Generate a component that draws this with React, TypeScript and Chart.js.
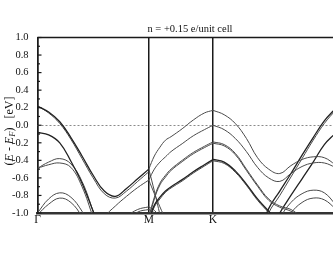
import React, { useEffect, useRef } from "react";
import { Chart, registerables } from "chart.js";

Chart.register(...registerables);

// ---------- data ----------
const TITLE = "n = +0.15 e/unit cell";
const kPointPos = [0, 1, 1.577];
const kPointLabels = ["Γ", "M", "K"];
const X_MAX = 2.655;

// k grids per path segment (Γ-M, M-K, K-Γ)
const kGM = [0, 0.1, 0.2, 0.3, 0.4, 0.5, 0.6, 0.7, 0.8, 0.9, 1.0];
const kMK = [1.0, 1.05, 1.1, 1.15, 1.2, 1.3, 1.4, 1.5, 1.577];
const kKG = [1.577, 1.677, 1.777, 1.877, 1.977, 2.077, 2.177, 2.277, 2.377, 2.477, 2.577, 2.677];

// Γ-M energies (eV)
const gm1a = [0.22, 0.15, 0.04, -0.14, -0.35, -0.57, -0.75, -0.81, -0.72, -0.61, -0.5];
const gm1b = [0.22, 0.14, 0.02, -0.16, -0.38, -0.6, -0.78, -0.83, -0.75, -0.64, -0.53];
const gm2 = [-0.08, -0.11, -0.2, -0.41, -0.66, -0.98, -1.3, null, null, null, null];
const gm3 = [-0.49, -0.42, -0.38, -0.44, -0.64, -0.98, -1.35, null, null, null, null];
const gm4 = [-0.49, -0.45, -0.43, -0.48, -0.7, -1.05, -1.4, null, null, null, null];
const gm5 = [-1.0, -0.84, -0.77, -0.82, -0.98, -1.2, null, null, null, null, null];
const gm6 = [-1.02, -0.9, -0.83, -0.88, -1.04, -1.25, null, null, null, null, null];
const gmE = [null, null, null, null, null, -1.3, -1.05, -0.92, -0.81, -0.71, -0.625];
const gmF = [null, null, null, null, null, null, null, -1.15, -1.04, -0.96, -0.93];
const gmG = [null, null, null, null, null, null, null, null, -1.1, -0.99, -0.96];

// M-K energies (eV)
const mkA = [-0.5, -0.35, -0.25, -0.17, -0.13, -0.04, 0.06, 0.14, 0.17];
const mkB = [-0.625, -0.5, -0.42, -0.36, -0.3, -0.21, -0.12, -0.05, 0.0];
const mkC1 = [-1.05, -0.82, -0.66, -0.57, -0.5, -0.4, -0.31, -0.24, -0.19];
const mkC2 = [-1.07, -0.84, -0.68, -0.59, -0.515, -0.415, -0.325, -0.255, -0.205];
const mkD1 = [-1.08, -0.91, -0.82, -0.75, -0.7, -0.62, -0.53, -0.45, -0.39];
const mkD2 = [-1.1, -0.93, -0.84, -0.765, -0.715, -0.635, -0.545, -0.465, -0.405];
const mkH1 = [-0.5, -0.75, -1.02, -1.3, null, null, null, null, null];
const mkH2 = [-0.625, -0.78, -0.93, -1.08, -1.3, null, null, null, null];
const mkF = [-0.93, -0.97, -1.05, null, null, null, null, null, null];
const mkG = [-0.96, -1.0, -1.1, null, null, null, null, null, null];

// K-Γ energies (eV)
const kgA = [0.17, 0.12, 0.02, -0.15, -0.37, -0.5, -0.55, -0.46, -0.39, -0.36, -0.37, -0.45];
const kgB = [0.0, -0.05, -0.15, -0.3, -0.48, -0.6, -0.64, -0.55, -0.47, -0.43, -0.43, -0.48];
const kgC1 = [-0.19, -0.22, -0.32, -0.5, -0.68, -0.84, -0.92, -0.96, -1.05, null, null, null];
const kgC2 = [-0.205, -0.235, -0.335, -0.515, -0.695, -0.855, -0.935, -0.98, -1.07, null, null, null];
const kgD1 = [-0.39, -0.42, -0.52, -0.67, -0.84, -0.98, -1.12, null, null, null, null, null];
const kgD2 = [-0.405, -0.435, -0.535, -0.685, -0.855, -0.995, -1.14, null, null, null, null, null];
const kg1a = [null, null, null, null, -1.3, -0.95, -0.75, -0.55, -0.34, -0.14, 0.05, 0.19];
const kg1b = [null, null, null, null, -1.35, -1.0, -0.8, -0.59, -0.38, -0.17, 0.02, 0.17];
const kg2 = [null, null, null, null, null, -1.25, -1.0, -0.8, -0.61, -0.42, -0.22, -0.09];
const kg5 = [null, null, null, null, null, null, -1.05, -0.88, -0.78, -0.74, -0.77, -0.9];
const kg6 = [null, null, null, null, null, null, -1.2, -1.0, -0.88, -0.83, -0.85, -0.95];

type Curve = { k: number[]; e: (number | null)[]; dark?: boolean };
const curves: Curve[] = [
  { k: kGM, e: gm1a, dark: true }, { k: kGM, e: gm1b }, { k: kGM, e: gm2, dark: true },
  { k: kGM, e: gm3 }, { k: kGM, e: gm4 }, { k: kGM, e: gm5 }, { k: kGM, e: gm6 },
  { k: kGM, e: gmE }, { k: kGM, e: gmF }, { k: kGM, e: gmG },
  { k: kMK, e: mkA }, { k: kMK, e: mkB }, { k: kMK, e: mkC1 }, { k: kMK, e: mkC2 },
  { k: kMK, e: mkD1, dark: true }, { k: kMK, e: mkD2 }, { k: kMK, e: mkH1 }, { k: kMK, e: mkH2 },
  { k: kMK, e: mkF }, { k: kMK, e: mkG },
  { k: kKG, e: kgA }, { k: kKG, e: kgB }, { k: kKG, e: kgC1 }, { k: kKG, e: kgC2 },
  { k: kKG, e: kgD1, dark: true }, { k: kKG, e: kgD2 }, { k: kKG, e: kg1a, dark: true },
  { k: kKG, e: kg1b }, { k: kKG, e: kg2, dark: true }, { k: kKG, e: kg5 }, { k: kKG, e: kg6 },
];

const SERIF = "'Liberation Serif', 'Times New Roman', serif";

const framePlugin = {
  id: "bandFrame",
  beforeDatasetsDraw(chart: any) {
    const { ctx, chartArea: a, scales } = chart;
    const y0 = scales.y.getPixelForValue(0);
    ctx.save();
    ctx.strokeStyle = "#8a8a8a";
    ctx.lineWidth = 1;
    ctx.setLineDash([2, 2]);
    ctx.beginPath();
    ctx.moveTo(a.left, Math.round(y0) + 0.5);
    ctx.lineTo(a.right, Math.round(y0) + 0.5);
    ctx.stroke();
    ctx.restore();
  },
  afterDatasetsDraw(chart: any) {
    const { ctx, chartArea: a, scales } = chart;
    ctx.save();
    ctx.strokeStyle = "#1a1a1a";
    ctx.lineWidth = 1.5;
    ctx.beginPath();
    ctx.moveTo(a.left, a.top);
    ctx.lineTo(a.right, a.top);
    ctx.stroke();
    ctx.lineWidth = 1.2;
    for (let i = -10; i <= 10; i++) {
      const py = scales.y.getPixelForValue(i / 10);
      const len = i % 2 === 0 ? 4 : 2.5;
      ctx.beginPath();
      ctx.moveTo(a.left, py);
      ctx.lineTo(a.left + len, py);
      ctx.stroke();
    }
    ctx.restore();
  },
  afterDraw(chart: any) {
    const { ctx, chartArea: a } = chart;
    ctx.save();
    ctx.fillStyle = "#111";
    ctx.font = `10.5px ${SERIF}`;
    ctx.textAlign = "center";
    ctx.textBaseline = "alphabetic";
    ctx.fillText(TITLE, a.left + 152.5, a.top - 5.5);
    const size = 12;
    const parts: { t: string; f: string; dy: number }[] = [
      { t: "(", f: `${size}px ${SERIF}`, dy: 0 },
      { t: "E", f: `italic ${size}px ${SERIF}`, dy: 0 },
      { t: " - ", f: `${size}px ${SERIF}`, dy: 0 },
      { t: "E", f: `italic ${size}px ${SERIF}`, dy: 0 },
      { t: "F", f: `italic ${size * 0.72}px ${SERIF}`, dy: 3 },
      { t: ")", f: `${size}px ${SERIF}`, dy: 0 },
      { t: "   [eV]", f: `${size}px ${SERIF}`, dy: 0 },
    ];
    let total = 0;
    const widths = parts.map((p) => {
      ctx.font = p.f;
      const w = ctx.measureText(p.t).width;
      total += w;
      return w;
    });
    ctx.translate(10, 131);
    ctx.rotate(-Math.PI / 2);
    ctx.textAlign = "left";
    ctx.textBaseline = "middle";
    let x = -total / 2;
    parts.forEach((p, i) => {
      ctx.font = p.f;
      ctx.fillText(p.t, x, p.dy);
      x += widths[i];
    });
    ctx.restore();
  },
};

export default function App() {
  const ref = useRef<HTMLCanvasElement | null>(null);

  useEffect(() => {
    if (!ref.current) return;
    const datasets = curves.map((c) => ({
      data: c.k.map((k, i) => ({ x: k, y: c.e[i] })),
      showLine: true,
      borderColor: c.dark ? "#222" : "#4a4a4a",
      borderWidth: c.dark ? 1.3 : 1,
      pointRadius: 0,
      tension: 0.4,
      spanGaps: false,
      fill: false,
    }));
    const chart = new Chart(ref.current, {
      type: "scatter",
      data: { datasets: datasets as any },
      options: {
        animation: false,
        responsive: false,
        devicePixelRatio: 1,
        layout: { padding: { top: 37.5, right: 0, left: 0, bottom: 0 } },
        plugins: { legend: { display: false }, tooltip: { enabled: false }, title: { display: false } },
        scales: {
          x: {
            type: "linear",
            min: 0,
            max: X_MAX,
            afterBuildTicks: (s: any) => {
              s.ticks = kPointPos.map((v) => ({ value: v }));
            },
            afterFit: (s: any) => {
              s.height = 45;
            },
            ticks: {
              autoSkip: false,
              maxRotation: 0,
              padding: 0,
              color: "#111",
              font: { family: SERIF, size: 11.5 },
              callback: (_v: any, i: number) => kPointLabels[i],
            },
            grid: { drawOnChartArea: true, drawTicks: false, color: "#1a1a1a", lineWidth: 1.5 },
            border: { display: true, color: "#333", width: 2.5 },
          },
          y: {
            min: -1,
            max: 1,
            afterFit: (s: any) => {
              s.width = 37.5;
            },
            ticks: {
              stepSize: 0.2,
              padding: 1,
              color: "#111",
              font: { family: SERIF, size: 10.5 },
              callback: (v: any) => (Math.abs(Number(v)) < 1e-9 ? "0.0" : Number(v).toFixed(1)),
            },
            grid: { display: false },
            border: { display: true, color: "#1a1a1a", width: 1.5 },
          },
        },
      },
      plugins: [framePlugin],
    });
    return () => chart.destroy();
  }, []);

  return (
    <div style={{ position: "fixed", left: 0, top: 0, width: 333, height: 258, background: "#fff" }}>
      <canvas ref={ref} width={333} height={258} style={{ display: "block" }} />
    </div>
  );
}
